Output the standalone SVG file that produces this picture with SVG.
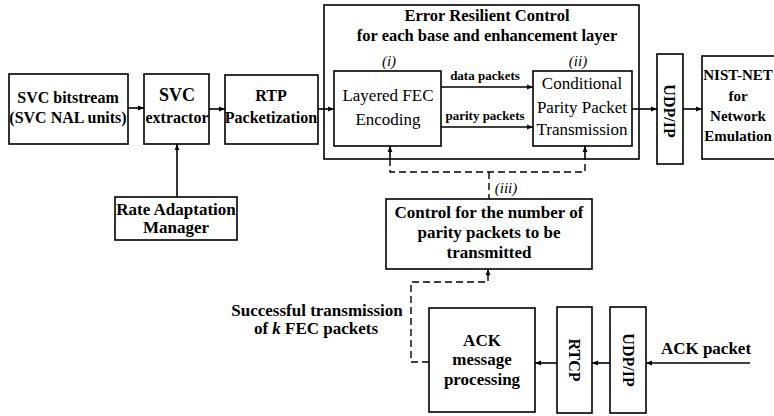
<svg xmlns="http://www.w3.org/2000/svg" width="774" height="416" viewBox="0 0 774 416">
<defs>
<marker id="ah" viewBox="0 0 10 10" refX="10" refY="5" markerWidth="6" markerHeight="6" orient="auto" markerUnits="userSpaceOnUse">
<path d="M0,1 L10,5 L0,9 z" fill="#000"/>
</marker>
</defs>
<style>
.box{fill:#fff;stroke:#000;stroke-width:1.6}
.b{font-family:"Liberation Serif","Times New Roman",serif;font-weight:bold;font-size:16px;fill:#000;text-anchor:middle}
.r{font-family:"Liberation Serif","Times New Roman",serif;font-size:17px;fill:#000;text-anchor:middle}
.s{font-family:"Liberation Serif","Times New Roman",serif;font-weight:bold;font-size:13px;fill:#000;text-anchor:middle}
.i{font-family:"Liberation Serif","Times New Roman",serif;font-style:italic;font-size:15px;fill:#000;text-anchor:middle}
.ln{fill:none;stroke:#000;stroke-width:1.6}
.d{fill:none;stroke:#000;stroke-width:1.4;stroke-dasharray:7,4}
</style>
<rect width="774" height="416" fill="#fff"/>

<g id="erc">
<rect class="box" x="324" y="5" width="315" height="154"/>
<text class="b" x="487" y="21" style="font-size:16.5px">Error Resilient Control</text>
<text class="b" x="487" y="41" style="font-size:16.5px">for each base and enhancement layer</text>
<text class="i" x="389" y="66">(i)</text>
<text class="i" x="578" y="66">(ii)</text>
</g>

<g id="svc-bitstream">
<rect class="box" x="9" y="74" width="119" height="70"/>
<text class="b" x="68" y="103">SVC bitstream</text>
<text class="b" x="68" y="123">(SVC NAL units)</text>
</g>

<g id="svc-extractor">
<rect class="box" x="144" y="74" width="65" height="70"/>
<text class="b" x="177" y="101" style="font-size:18px">SVC</text>
<text class="b" x="177" y="123">extractor</text>
</g>

<g id="rtp">
<rect class="box" x="225" y="75" width="93" height="69"/>
<text class="b" x="271" y="101">RTP</text>
<text class="b" x="271" y="123">Packetization</text>
</g>

<g id="rate-adaptation">
<rect class="box" x="115" y="197" width="122" height="43"/>
<text class="b" x="176" y="215" style="font-size:17px">Rate Adaptation</text>
<text class="b" x="176" y="233" style="font-size:17px">Manager</text>
</g>

<g id="fec">
<rect class="box" x="334" y="71" width="107" height="75"/>
<text class="r" x="388" y="101">Layered FEC</text>
<text class="r" x="388" y="125">Encoding</text>
</g>

<g id="conditional">
<rect class="box" x="533" y="71" width="99" height="75"/>
<text class="r" x="582" y="89">Conditional</text>
<text class="r" x="582" y="113">Parity Packet</text>
<text class="r" x="582" y="135">Transmission</text>
</g>

<g id="udpip-top">
<rect class="box" x="657" y="54" width="26" height="110"/>
<text class="b" transform="translate(664,111) rotate(90)">UDP/IP</text>
</g>

<g id="nistnet">
<rect class="box" x="702" y="56" width="90" height="103"/>
<text class="b" x="738" y="80" style="font-size:15px">NIST-NET</text>
<text class="b" x="738" y="101" style="font-size:15px">for</text>
<text class="b" x="738" y="121" style="font-size:15px">Network</text>
<text class="b" x="738" y="141" style="font-size:15px">Emulation</text>
</g>

<g id="control">
<rect class="box" x="386" y="199" width="206" height="70"/>
<text class="b" x="489" y="218" style="font-size:17px">Control for the number of</text>
<text class="b" x="489" y="238" style="font-size:17px">parity packets to be</text>
<text class="b" x="489" y="258" style="font-size:17px">transmitted</text>
</g>

<g id="ack-proc">
<rect class="box" x="429" y="308" width="106" height="104"/>
<text class="b" x="482" y="346" style="font-size:17px">ACK</text>
<text class="b" x="482" y="365" style="font-size:17px">message</text>
<text class="b" x="482" y="385" style="font-size:17px">processing</text>
</g>

<g id="rtcp">
<rect class="box" x="557" y="307" width="35" height="106"/>
<text class="b" transform="translate(569,360) rotate(90)">RTCP</text>
</g>

<g id="udpip-bottom">
<rect class="box" x="610" y="307" width="36" height="106"/>
<text class="b" transform="translate(623,360) rotate(90)">UDP/IP</text>
</g>

<g id="labels">
<text class="s" x="485" y="80">data packets</text>
<text class="s" x="485" y="120">parity packets</text>
<text class="i" x="506" y="193">(iii)</text>
<text class="b" x="317" y="316" style="font-size:17px">Successful transmission</text>
<text class="b" x="316" y="334" style="font-size:17px">of <tspan font-style="italic">k</tspan> FEC packets</text>
<text class="b" x="706" y="354" style="font-size:17px">ACK packet</text>
</g>

<g id="connectors">
<line class="ln" x1="128" y1="108" x2="144" y2="108" marker-end="url(#ah)"/>
<line class="ln" x1="209" y1="109" x2="225" y2="109" marker-end="url(#ah)"/>
<line class="ln" x1="318" y1="109" x2="334" y2="109" marker-end="url(#ah)"/>
<line class="ln" x1="177" y1="197" x2="177" y2="144" marker-end="url(#ah)"/>
<line class="ln" x1="441" y1="87" x2="533" y2="87" marker-end="url(#ah)"/>
<line class="ln" x1="441" y1="127" x2="533" y2="127" marker-end="url(#ah)"/>
<line class="ln" x1="632" y1="109" x2="657" y2="109" marker-end="url(#ah)"/>
<line class="ln" x1="683" y1="109" x2="702" y2="109" marker-end="url(#ah)"/>
<line class="ln" x1="750" y1="363" x2="646" y2="363" marker-end="url(#ah)"/>
<line class="ln" x1="610" y1="363" x2="592" y2="363" marker-end="url(#ah)"/>
<line class="ln" x1="557" y1="363" x2="535" y2="363" marker-end="url(#ah)"/>
<path class="d" d="M390,159 V172 H585 V159"/>
<line class="ln" x1="390" y1="159" x2="390" y2="146" marker-end="url(#ah)"/>
<line class="ln" x1="585" y1="159" x2="585" y2="146" marker-end="url(#ah)"/>
<path class="d" d="M489,172 V199"/>
<path class="d" d="M429,362 H411 V282 H488 V275"/>
<line class="ln" x1="488" y1="276" x2="488" y2="269" marker-end="url(#ah)"/>
</g>
</svg>
